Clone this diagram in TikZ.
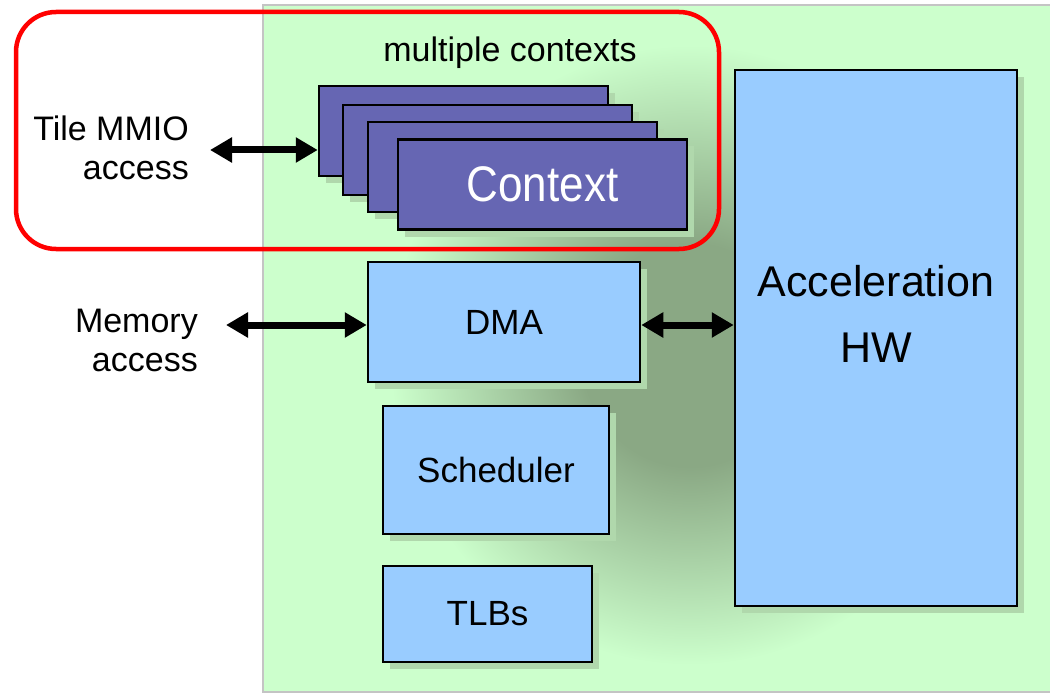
\documentclass[tikz,border=0pt]{standalone}
\usepackage{fontspec}
\setmainfont{Liberation Sans}
\usetikzlibrary{arrows.meta,shadows}

\definecolor{panel}{HTML}{CCFFCC}
\definecolor{glowdark}{HTML}{8AA884}
\definecolor{shade}{HTML}{B0D8AC}
\definecolor{ctxfill}{HTML}{6666B3}
\definecolor{hwblue}{HTML}{99CCFF}
\definecolor{framegray}{HTML}{C4C4C4}
\definecolor{groupred}{HTML}{FF0000}

% soft glow: dark core fading into the panel colour at the path edge (25bp)
\pgfdeclareradialshading{glow}{\pgfpoint{0bp}{0bp}}{color(0bp)=(glowdark); color(9bp)=(glowdark); color(25bp)=(panel); color(50bp)=(panel)}

\tikzset{
  boxshadow/.style={drop shadow={shadow xshift=7pt, shadow yshift=-7pt, fill=shade, opacity=1}},
  ctxbox/.style={draw=black, line width=2.5pt, fill=ctxfill, inner sep=0pt,
    minimum width=289pt, minimum height=90pt, boxshadow},
  hwbox/.style={draw=black, line width=2.5pt, fill=hwblue, inner sep=0pt, boxshadow,
    font=\fontsize{35}{35}\selectfont},
  sidetext/.style={align=right, inner sep=0pt, font=\fontsize{34}{39}\selectfont},
  dbl/.style={line width=7pt, {Triangle[length=22pt,width=24pt]}-{Triangle[length=22pt,width=24pt]}},
}

\begin{document}
\begin{tikzpicture}[x=1pt, y=-1pt]
  \useasboundingbox (0,0) rectangle (1050,698);

  % green panel with its dark glow
  \fill[panel] (263,5) rectangle (1062,692);
  \begin{scope}
    \clip (263,5) rectangle (1062,692);
    \shade[shading=glow] (690,355) ellipse [x radius=300pt, y radius=310pt];
  \end{scope}
  \draw[framegray, line width=2.5pt] (263,5) rectangle (1062,692);

  % stacked contexts
  \node[ctxbox] (ctx1) at (463.5,131) {};
  \node[ctxbox] (ctx2) at (487.5,150) {};
  \node[ctxbox] (ctx3) at (512.5,167) {};
  \node[ctxbox, text=white, font=\fontsize{50}{50}\selectfont] (ctx4) at (542.5,184.5) {\scalebox{0.88}[1]{Context}};

  \node[anchor=base, inner sep=0pt, font=\fontsize{34}{34}\selectfont] (multi) at (510,62) {multiple contexts};

  % hardware blocks
  \node[hwbox, minimum width=272pt, minimum height=120pt] (dma) at (504,322) {DMA};
  \node[hwbox, minimum width=226pt, minimum height=128pt] (sched) at (496,470) {Scheduler};
  \node[hwbox, minimum width=209pt, minimum height=96pt] (tlb) at (487.5,614) {TLBs};
  \node[hwbox, minimum width=282pt, minimum height=536pt] (acc) at (876,338) {};
  \node[align=center, inner sep=0pt, font=\fontsize{43}{66}\selectfont] (accLbl) at (876,314) {Acceleration\\HW};

  % group outline around the contexts
  \node[draw=groupred, line width=4.5pt, rounded corners=40pt, minimum width=703pt,
        minimum height=237pt, inner sep=0pt] (group) at (367.5,130.5) {};

  % side labels
  \node[sidetext, anchor=east] (mmioLbl) at (189,148) {Tile MMIO\\access};
  \node[sidetext, anchor=east] (memLbl) at (198,340) {Memory\\access};

  % connectors
  \coordinate (mmioEnd) at (210,150);
  \coordinate (memEnd) at (226,325);
  \draw[dbl] (mmioEnd) -- (mmioEnd -| ctx1.west);
  \draw[dbl] (memEnd) -- (memEnd -| dma.west);
  \draw[dbl] (memEnd -| dma.east) -- (memEnd -| acc.west);
\end{tikzpicture}
\end{document}
